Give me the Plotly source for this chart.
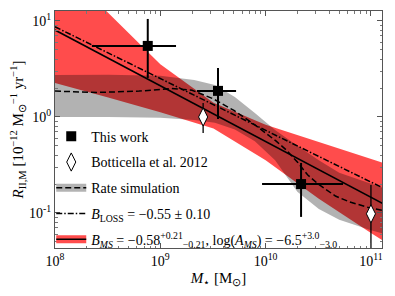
import plotly.graph_objects as go

# ---------------- data ----------------
# This work (filled squares)
tw_mass = [7.6e8, 3.53e9, 2.17e10]
tw_rate = [5.5, 1.87, 0.20]
tw_mass_lo = [2.24e8, 2.23e9, 9.25e9]
tw_mass_hi = [1.41e9, 5.24e9, 5.43e10]
tw_rate_lo = [2.55, 0.955, 0.091]
tw_rate_hi = [10.5, 3.24, 0.332]

# Botticella et al. 2012 (open diamonds)
bo_mass = [2.55e9, 1.0e11]
bo_rate = [1.0, 0.098]
bo_rate_lo = [0.68, 0.03]
bo_rate_hi = [1.4, 0.196]

# Rate simulation (dashed line + grey band)
rs_mass = [1e8, 2.5e8, 6.3e8, 1.26e9, 2.0e9, 3.16e9, 5.0e9, 7.9e9, 1.26e10,
           1.58e10, 2.0e10, 2.5e10, 3.16e10, 4.6e10, 6.3e10, 1.0e11, 1.4e11]
rs_rate = [1.86, 1.80, 1.86, 1.98, 1.9, 1.55, 1.17, 0.83, 0.56,
           0.45, 0.34, 0.25, 0.20, 0.15, 0.13, 0.112, 0.105]
gb_mass = [1e8, 3.2e8, 1e9, 2.1e9, 3.3e9, 5.1e9, 7.9e9, 1.23e10, 2e10,
           3.2e10, 5e10, 1e11, 1.4e11]
gb_upper = [2.74, 2.75, 2.69, 2.43, 2.15, 1.61, 1.10, 0.73, 0.50,
            0.355, 0.263, 0.20, 0.178]
gb_lower = [1.0, 1.0, 0.98, 0.93, 0.87, 0.74, 0.56, 0.355, 0.166,
            0.11, 0.085, 0.066, 0.06]

# B_LOSS fit (dash-dot) and B_MS fit (solid + red band)
loss_mass = [1e8, 1.4e11]
loss_rate = [8.7, 0.175]
ms_mass = [1e8, 1.4e11]
ms_rate = [8.05, 0.12]
rb_mass = [1e8, 3.2e8, 1e9, 3.2e9, 1e10, 3.2e10, 1e11, 1.4e11]
rb_upper = [42.7, 12.2, 3.55, 1.41, 0.83, 0.55, 0.363, 0.324]
rb_lower = [2.26, 1.6, 1.12, 0.76, 0.355, 0.141, 0.0617, 0.049]

# axis ticks
x_tickvals = [1e8, 1e9, 1e10, 1e11]
x_ticktext = ["10<sup>8</sup>", "10<sup>9</sup>", "10<sup>10</sup>", "10<sup>11</sup>"]
y_tickvals = [0.1, 1, 10]
y_ticktext = ["10<sup>-1</sup>", "10<sup>0</sup>", "10<sup>1</sup>"]

# legend labels
lab_tw = "This work"
lab_bo = "Botticella et al. 2012"
lab_rs = "Rate simulation"
lab_loss = "<i>B</i><sub>LOSS</sub> = −0.55 ± 0.10"
lab_ms = ("<i>B<sub>MS</sub></i> = −0.58<sup>+0.21</sup><sub>−0.21</sub>, "
          "log(<i>A<sub>MS</sub></i>) = −6.5<sup>+3.0</sup><sub>−3.0</sub>")

# ---------------- figure ----------------
FONT = "Liberation Serif"
RED = "rgba(255,0,0,0.7)"
GREY = "rgba(0,0,0,0.3)"
DASH = "6px,3px"
DASHDOT = "6px,2px,1.5px,2px"
CLEAR = "rgba(0,0,0,0)"

fig = go.Figure()

# red band
fig.add_trace(go.Scatter(
    x=rb_mass + rb_mass[::-1], y=rb_upper + rb_lower[::-1],
    fill="toself", fillcolor=RED, line=dict(width=0), mode="lines",
    showlegend=False, hoverinfo="skip"))
# grey band
fig.add_trace(go.Scatter(
    x=gb_mass + gb_mass[::-1], y=gb_upper + gb_lower[::-1],
    fill="toself", fillcolor=GREY, line=dict(width=0), mode="lines",
    showlegend=False, hoverinfo="skip"))

# lines
fig.add_trace(go.Scatter(x=ms_mass, y=ms_rate, mode="lines",
                         line=dict(color="black", width=1.5), showlegend=False))
fig.add_trace(go.Scatter(x=loss_mass, y=loss_rate, mode="lines",
                         line=dict(color="black", width=1.5, dash=DASHDOT),
                         showlegend=False))
fig.add_trace(go.Scatter(x=rs_mass, y=rs_rate, mode="lines",
                         line=dict(color="black", width=1.5, dash=DASH),
                         showlegend=False))

# ---- legend 1: colour patches only (text transparent, same item sizes) ----
fig.add_trace(go.Scatter(x=[None], y=[None], mode="markers", name=lab_tw,
                         legend="legend", legendgroup="p1",
                         marker=dict(symbol="square", size=10, color=CLEAR)))
fig.add_trace(go.Scatter(x=[None], y=[None], mode="markers", name=lab_bo,
                         legend="legend", legendgroup="p2",
                         marker=dict(symbol="diamond-tall", size=13, color=CLEAR,
                                     line=dict(color=CLEAR, width=1))))
fig.add_trace(go.Scatter(x=[None], y=[None], mode="lines", name=lab_rs,
                         legend="legend", legendgroup="p3",
                         line=dict(color="rgb(179,179,179)", width=8)))
fig.add_trace(go.Scatter(x=[None], y=[None], mode="lines", name=lab_loss,
                         legend="legend", legendgroup="p4",
                         line=dict(color=CLEAR, width=1.5)))
fig.add_trace(go.Scatter(x=[None], y=[None], mode="lines", name=lab_ms,
                         legend="legend", legendgroup="p5",
                         line=dict(color="rgb(255,77,77)", width=8)))

# ---- legend 2: visible entries ----
fig.add_trace(go.Scatter(
    x=tw_mass, y=tw_rate, mode="markers", name=lab_tw, legend="legend2", legendgroup="a",
    marker=dict(symbol="square", size=10, color="black"),
    error_x=dict(type="data", symmetric=False,
                 array=[h - m for h, m in zip(tw_mass_hi, tw_mass)],
                 arrayminus=[m - l for l, m in zip(tw_mass_lo, tw_mass)],
                 color="black", thickness=2, width=0),
    error_y=dict(type="data", symmetric=False,
                 array=[h - r for h, r in zip(tw_rate_hi, tw_rate)],
                 arrayminus=[r - l for l, r in zip(tw_rate_lo, tw_rate)],
                 color="black", thickness=2, width=0)))
fig.add_trace(go.Scatter(
    x=bo_mass, y=bo_rate, mode="markers", name=lab_bo, legend="legend2", legendgroup="b",
    marker=dict(symbol="diamond-tall", size=13, color="white",
                line=dict(color="black", width=1)),
    error_y=dict(type="data", symmetric=False,
                 array=[h - r for h, r in zip(bo_rate_hi, bo_rate)],
                 arrayminus=[r - l for l, r in zip(bo_rate_lo, bo_rate)],
                 color="black", thickness=1.3, width=0)))
fig.add_trace(go.Scatter(x=[None], y=[None], mode="lines", name=lab_rs,
                         legend="legend2", legendgroup="c",
                         line=dict(color="black", width=1.5, dash=DASH)))
fig.add_trace(go.Scatter(x=[None], y=[None], mode="lines", name=lab_loss,
                         legend="legend2", legendgroup="d",
                         line=dict(color="black", width=1.5, dash=DASHDOT)))
fig.add_trace(go.Scatter(x=[None], y=[None], mode="lines", name=lab_ms,
                         legend="legend2", legendgroup="e",
                         line=dict(color="black", width=1.5)))

axis_common = dict(
    type="log", showgrid=False, zeroline=False, showline=True, automargin=False,
    linecolor="#555", linewidth=1, mirror="allticks",
    ticks="inside", ticklen=5, tickcolor="#555",
    minor=dict(ticks="inside", ticklen=2.5, tickcolor="#777", dtick="D1", showgrid=False),
    tickfont=dict(family=FONT, size=14, color="black"),
)

leg_common = dict(x=-0.0115, y=0.537, xanchor="left", yanchor="top",
                  bgcolor="rgba(0,0,0,0)", traceorder="grouped", tracegroupgap=4.5,
                  itemwidth=30)

# the page body adds an 8 px offset, so the figure is 8 px smaller on each side
fig.update_layout(
    width=387, height=288,
    margin=dict(l=47, r=13, t=3, b=48),
    paper_bgcolor="white", plot_bgcolor="white",
    font=dict(family=FONT, size=14, color="black"),
    xaxis=dict(axis_common, range=[8, 11.105], tickmode="array",
               tickvals=x_tickvals, ticktext=x_ticktext,
               title=dict(text="<i>M</i><sub>⋆</sub> [M<sub>⊙</sub>]", standoff=4,
                          font=dict(family=FONT, size=15))),
    yaxis=dict(axis_common, range=[-1.365, 1.104], tickmode="array",
               tickvals=y_tickvals, ticktext=y_ticktext,
               title=dict(text="<i>R</i><sub>II,M</sub> [10<sup>−12</sup> M<sub>⊙</sub><sup>−1</sup> yr<sup>−1</sup>]",
                          standoff=2, font=dict(family=FONT, size=15))),
    legend=dict(leg_common, font=dict(family=FONT, size=14, color=CLEAR)),
    legend2=dict(leg_common, font=dict(family=FONT, size=14, color="black")),
    showlegend=True,
)

fig.write_html("out.html")
